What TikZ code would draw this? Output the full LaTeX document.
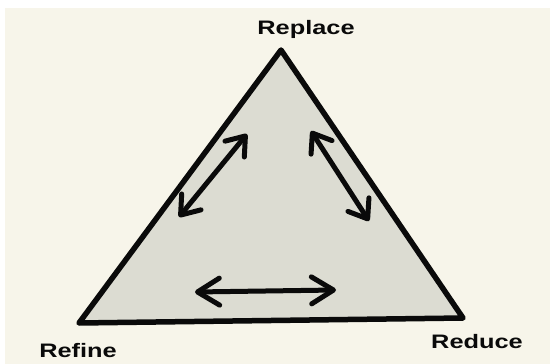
\documentclass[tikz,border=0pt]{standalone}
\usepackage{fontspec}
\usepackage{graphicx}
\setmainfont{Liberation Sans}
\usetikzlibrary{arrows.meta}
\definecolor{cream}{RGB}{247,245,234}
\definecolor{trifill}{RGB}{220,220,210}
\definecolor{ink}{RGB}{10,10,10}
\tikzset{
  label text/.style={anchor=base, inner sep=0pt, text=ink,
    font=\bfseries\fontsize{19.5}{19.5}\selectfont},
  tri/.style={draw=ink, fill=trifill, line width=5.5pt, line join=round},
  bigarrow/.style={draw=ink, line width=5pt, line cap=round,
    {Straight Barb[length=17pt, width=25pt, round]}-{Straight Barb[length=17pt, width=25pt, round]}},
}
\begin{document}
\begin{tikzpicture}[x=1pt,y=-1pt]
  \useasboundingbox (0,0) rectangle (550,364);
  \fill[white] (0,0) rectangle (550,364);
  \fill[cream] (5,8) rectangle (550,364);
  % vertices
  \coordinate (top) at (281,50);
  \coordinate (bl) at (79,323);
  \coordinate (br) at (463,318);
  \draw[tri] (top) -- (bl) -- (br) -- cycle;
  % labels
  \node[label text] (replace) at (306,34.5) {\scalebox{1.3}[1]{Replace}};
  \node[label text] (refine) at (78,357) {\scalebox{1.3}[1]{Refine}};
  \node[label text] (reduce) at (477,348) {\scalebox{1.3}[1]{Reduce}};
  % arrow ends
  \coordinate (l1) at (179,217);
  \coordinate (l2) at (247,134);
  \coordinate (r1) at (311,131);
  \coordinate (r2) at (369,221);
  \coordinate (h1) at (195,292);
  \coordinate (h2) at (336,290);
  \draw[bigarrow] (l1) -- (l2);
  \draw[bigarrow] (r1) -- (r2);
  \draw[bigarrow, {Straight Barb[length=22pt, width=27pt, round]}-{Straight Barb[length=22pt, width=27pt, round]}] (h1) -- (h2);
\end{tikzpicture}
\end{document}
